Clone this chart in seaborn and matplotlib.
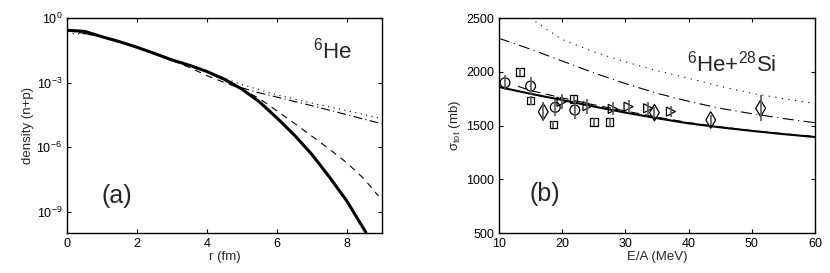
import numpy as np
import pandas as pd
import matplotlib
matplotlib.use("Agg")
import matplotlib.pyplot as plt
import seaborn as sns
from matplotlib.ticker import FixedLocator, NullLocator, LogFormatterSciNotation

# panel (a): densities of 6He, values as log10(density)
r_solid = [0, 0.5, 1, 1.5, 2, 2.5, 3, 3.5, 4, 4.5, 5, 5.5, 6, 6.5, 7, 7.5, 8, 8.54]
lg_solid = [-0.57, -0.62, -0.87, -1.1, -1.36, -1.65, -1.95, -2.2, -2.49, -2.85, -3.31,
            -3.9, -4.65, -5.45, -6.35, -7.4, -8.52, -9.97]
r_dash = [0, 1, 2, 3, 3.5, 4, 4.5, 5, 5.5, 6, 6.5, 7, 7.5, 8, 8.5, 8.9]
lg_dash = [-0.57, -0.87, -1.36, -1.97, -2.3, -2.68, -3.0, -3.3, -3.75, -4.32, -4.9,
           -5.5, -6.1, -6.74, -7.5, -8.28]
r_dashdot = [0, 1, 2, 3, 4, 4.5, 5, 5.5, 6, 7, 8, 9]
lg_dashdot = [-0.57, -0.87, -1.36, -1.95, -2.5, -2.92, -3.25, -3.48, -3.68, -4.08, -4.5, -4.92]
r_dot = [0, 0.5, 1, 2, 3, 4, 4.5, 5, 6, 7, 8, 9]
lg_dot = [-0.71, -0.74, -0.87, -1.36, -1.95, -2.44, -2.8, -3.1, -3.57, -3.96, -4.31, -4.68]

# panel (b): total reaction cross section 6He+28Si
e_solid = [10, 15, 20, 25, 30, 35, 40, 45, 50, 55, 60]
sig_solid = [1858, 1795, 1737, 1677, 1620, 1568, 1520, 1483, 1450, 1420, 1393]
e_dash = [13, 15, 20, 25, 30, 35, 40, 45, 50, 55, 60]
sig_dash = [1865, 1825, 1757, 1693, 1635, 1578, 1527, 1487, 1453, 1423, 1398]
e_dashdot = [10, 15, 20, 25, 30, 35, 40, 45, 50, 55, 60]
sig_dashdot = [2311, 2210, 2100, 1990, 1890, 1800, 1725, 1660, 1610, 1565, 1526]
e_dot = [14.9, 20, 25, 30, 35, 40, 45, 50, 55, 60]
sig_dot = [2500, 2300, 2185, 2092, 2010, 1940, 1865, 1800, 1750, 1705]

e_circ = [10.95, 15.0, 18.9, 22.0]
s_circ = [1898, 1867, 1669, 1644]
d_circ = [70, 85, 80, 80]
e_sq = [13.3, 15.0, 18.6, 21.8, 25.0, 27.5]
s_sq = [2000, 1731, 1511, 1744, 1535, 1530]
d_sq = [35, 40, 35, 35, 35, 40]
e_tri = [19.9, 24.0, 28.0, 30.5, 33.6, 37.2]
s_tri = [1720, 1680, 1655, 1675, 1660, 1630]
d_tri = [70, 70, 60, 60, 60, 50]
e_dia = [17.0, 34.6, 43.5, 51.4]
s_dia = [1628, 1620, 1551, 1660]
d_dia = [90, 50, 50, 120]

sns.set_theme(style="ticks")
plt.rcParams.update({
    "font.family": ["Liberation Sans", "DejaVu Sans"],
    "mathtext.default": "regular",
    "xtick.direction": "in", "ytick.direction": "in",
    "xtick.top": True, "ytick.right": True,
    "xtick.major.size": 3, "ytick.major.size": 3,
    "xtick.major.width": 0.8, "ytick.major.width": 0.8,
    "xtick.labelsize": 9, "ytick.labelsize": 9,
    "axes.labelsize": 9.5, "axes.linewidth": 1.0,
    "axes.edgecolor": "black",
    "xtick.color": "black", "ytick.color": "black",
})

fig = plt.figure(figsize=(8.3, 2.73), dpi=100)
ax1 = fig.add_axes([0.0807, 0.1465, 0.3795, 0.7875])
ax2 = fig.add_axes([0.6012, 0.1465, 0.3807, 0.7875])

# ---- panel (a)
sns.lineplot(x=r_solid, y=10 ** np.array(lg_solid), ax=ax1, color="black", lw=2.2)
sns.lineplot(x=r_dash, y=10 ** np.array(lg_dash), ax=ax1, color="black", lw=0.8, ls=(0, (6, 5)))
sns.lineplot(x=r_dashdot, y=10 ** np.array(lg_dashdot), ax=ax1, color="black", lw=0.8,
             ls=(0, (8, 3, 1, 3)))
sns.lineplot(x=r_dot, y=10 ** np.array(lg_dot), ax=ax1, color="black", lw=0.8, ls=(0, (1, 4)))
ax1.set_yscale("log")
ax1.set_xlim(0, 9)
ax1.set_ylim(1e-10, 1)
ax1.set_xticks([0, 2, 4, 6, 8])
ax1.yaxis.set_major_locator(FixedLocator([1e-9, 1e-6, 1e-3, 1e0]))
ax1.yaxis.set_minor_locator(NullLocator())
ax1.yaxis.set_major_formatter(LogFormatterSciNotation())
ax1.set_xlabel("r (fm)", labelpad=1)
ax1.set_ylabel("density (n+p)", labelpad=2)
ax1.text(0.11, 0.14, "(a)", transform=ax1.transAxes, fontsize=18)
ax1.text(0.78, 0.814, "$^{6}$He", transform=ax1.transAxes, fontsize=16)

# ---- panel (b)
sns.lineplot(x=e_solid, y=sig_solid, ax=ax2, color="black", lw=1.5)
sns.lineplot(x=e_dash, y=sig_dash, ax=ax2, color="black", lw=0.8, ls=(0, (8, 5)))
sns.lineplot(x=e_dashdot, y=sig_dashdot, ax=ax2, color="black", lw=0.8, ls=(0, (10, 4, 1, 4)))
sns.lineplot(x=e_dot, y=sig_dot, ax=ax2, color="black", lw=0.8, ls=(0, (1, 5)))

for ee, ss, dd in [(e_circ, s_circ, d_circ), (e_sq, s_sq, d_sq),
                   (e_tri, s_tri, d_tri), (e_dia, s_dia, d_dia)]:
    ax2.errorbar(ee, ss, yerr=dd, fmt="none", ecolor="0.35", elinewidth=1.2, capsize=0)

sns.scatterplot(x=e_circ, y=s_circ, ax=ax2, marker="o", s=50, facecolor="none",
                edgecolor="black", linewidth=0.9)
sns.scatterplot(x=e_sq, y=s_sq, ax=ax2, marker="s", s=30, facecolor="none",
                edgecolor="black", linewidth=0.9)
sns.scatterplot(x=e_tri, y=s_tri, ax=ax2, marker=">", s=42, facecolor="none",
                edgecolor="black", linewidth=0.9)
sns.scatterplot(x=e_dia, y=s_dia, ax=ax2, marker="d", s=70, facecolor="none",
                edgecolor="black", linewidth=0.9)

ax2.set_xlim(10, 60)
ax2.set_ylim(500, 2500)
ax2.set_xticks([10, 20, 30, 40, 50, 60])
ax2.set_yticks([500, 1000, 1500, 2000, 2500])
ax2.set_xlabel("E/A (MeV)", labelpad=1)
ax2.set_ylabel("σ$_{tot}$ (mb)", labelpad=2)
ax2.text(0.098, 0.15, "(b)", transform=ax2.transAxes, fontsize=18)
ax2.text(0.594, 0.75, "$^{6}$He+$^{28}$Si", transform=ax2.transAxes, fontsize=16)

fig.savefig("out.png", dpi=100)
